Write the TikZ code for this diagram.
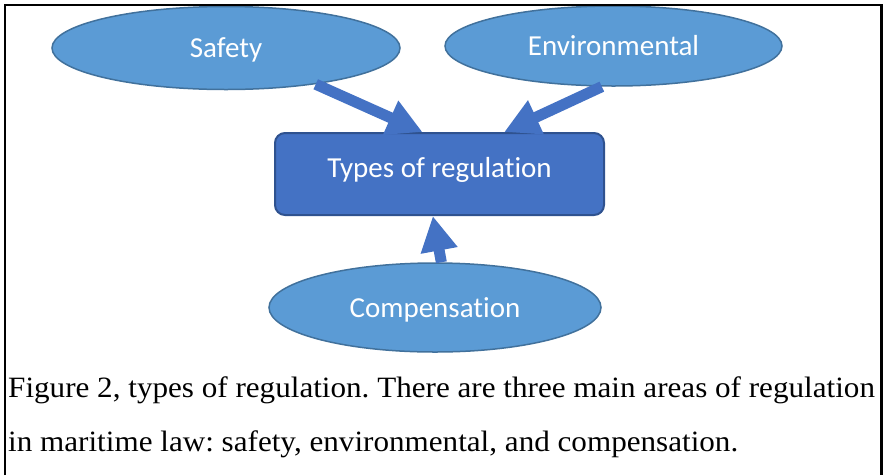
\documentclass[tikz,border=0pt]{standalone}
\usepackage{fontspec}
\setmainfont{Liberation Serif}
\newfontfamily\carl[Ligatures=NoCommon]{Carlito}
\newfontfamily\capfont[FakeStretch=1.055]{Liberation Serif}
\usetikzlibrary{arrows.meta,shapes.geometric}
\definecolor{ellfill}{HTML}{5B9BD5}
\definecolor{elldraw}{HTML}{41719C}
\definecolor{boxfill}{HTML}{4472C4}
\definecolor{boxdraw}{HTML}{2F528F}
\definecolor{arrcol}{HTML}{4472C4}
\tikzset{
  area/.style={ellipse, fill=ellfill, draw=elldraw, line width=1.5pt, inner sep=0pt,
    text=white, font=\carl\fontsize{29}{34}\selectfont, text height=19pt, text depth=0pt},
  mainbox/.style={rectangle, rounded corners=10pt, fill=boxfill, draw=boxdraw, line width=2pt,
    inner sep=0pt, minimum width=329pt, minimum height=82pt,
    text=white, font=\carl\fontsize{29}{34}\selectfont, text height=6pt, text depth=0pt},
  blockarrow/.style={draw=arrcol, line width=11pt, line cap=butt,
    -{Triangle[width=35pt,length=35pt]}},
  captext/.style={anchor=base west, inner sep=0pt, font=\capfont\fontsize{29.5}{36}\selectfont\frenchspacing}
}
\begin{document}
\begin{tikzpicture}[x=1pt,y=-1pt]
\useasboundingbox (0,0) rectangle (884,475);
\node[area, minimum width=348pt, minimum height=83pt] (safety) at (226,48) {Safety};
\node[area, minimum width=337pt, minimum height=80pt] (env) at (613.5,46) {Environmental};
\node[mainbox] (types) at (439.5,174) {Types of regulation};
\node[area, minimum width=332pt, minimum height=89pt] (comp) at (435,307.5) {Compensation};
\draw[blockarrow] (safety.-22.6) -- (types.112);
\draw[blockarrow] (env.254) -- (types.33.7);
\draw[blockarrow] (comp.82) -- (types.-99);
\node[captext] (cap1) at (8,397) {Figure 2, types of regulation. There are three main areas of regulation};
\node[captext] (cap2) at (8,451) {in maritime law: safety, environmental, and compensation.};
\draw[line width=2.4pt, line cap=butt] (4.7,475) -- (4.7,5) -- (881.5,5) -- (881.5,475);
\end{tikzpicture}
\end{document}
